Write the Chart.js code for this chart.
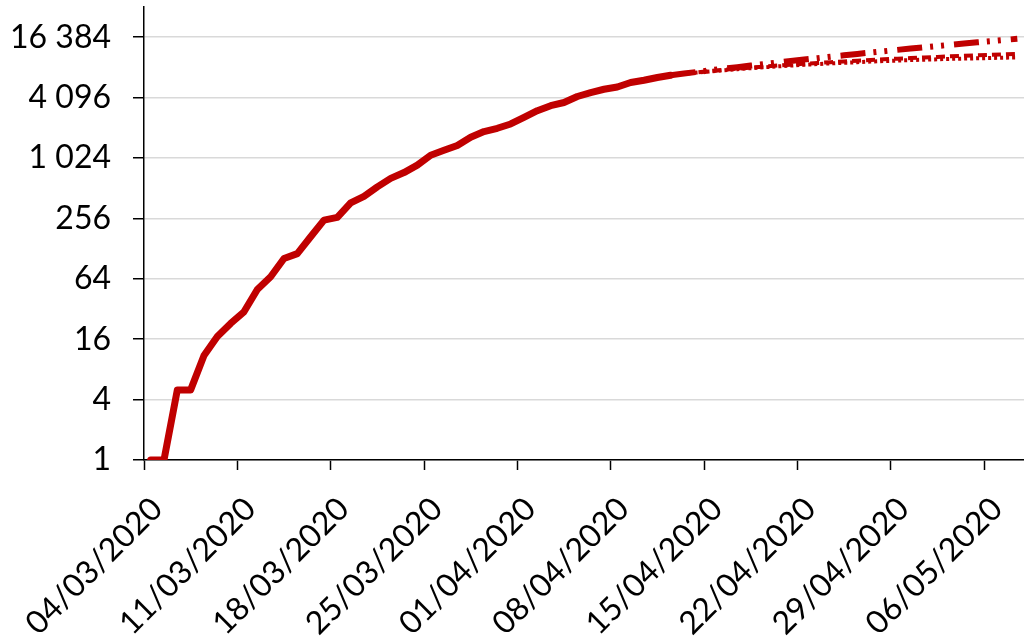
<!DOCTYPE html>
<html>
<head>
<meta charset="utf-8">
<script src="https://cdn.jsdelivr.net/npm/chart.js@4/dist/chart.umd.min.js"></script>
<style>
  html, body { margin: 0; padding: 0; background: #fff; }
  #wrap { width: 1024px; height: 638px; }
</style>
</head>
<body>
<div id="wrap"><canvas id="chart" width="1024" height="638"></canvas></div>
<script>
// day 0 = 04/03/2020, one value per day
const observed = [1, 1, 5, 5, 11, 17, 23, 30, 50, 67, 102, 114, 168, 246, 262, 366, 425, 528, 641, 733,
  869, 1090, 1221, 1367, 1650, 1878, 2025, 2237, 2600, 3035, 3400, 3660, 4200, 4600, 4960, 5230, 5800, 6100, 6500, 6850];

// projections start on the last observed day (day 39)
const projStart = 39;
const projHigh = [6850, 7120, 7390, 7670, 7950, 8240, 8540, 8840, 9150, 9480, 9800, 10130, 10480, 10810,
  11160, 11520, 11880, 12250, 12630, 13000, 13380, 13780, 14170, 14560, 14970, 15380, 15790];
const projMid = [6850, 7092, 7322, 7544, 7756, 7952, 8158, 8347, 8540, 8720, 8898, 9065, 9229, 9404,
  9556, 9708, 9864, 10001, 10141, 10283, 10426, 10572, 10690, 10816, 10936, 11067, 11190];
const projLow = [6850, 7072, 7287, 7491, 7681, 7863, 8045, 8215, 8382, 8540, 8696, 8836, 8982, 9108,
  9229, 9358, 9469, 9575, 9688, 9776, 9864, 9960, 10023, 10093, 10163, 10233, 10305];

const tickDays = [0, 7, 14, 21, 28, 35, 42, 49, 56, 63];
const tickLabels = ['04/03/2020', '11/03/2020', '18/03/2020', '25/03/2020', '01/04/2020',
  '08/04/2020', '15/04/2020', '22/04/2020', '29/04/2020', '06/05/2020'];
const yTicks = [1, 4, 16, 64, 256, 1024, 4096, 16384];

const RED = '#C00000';
const FONT = { family: 'Lato, "Open Sans", sans-serif', size: 32 };

function fmtThousands(v) {
  return String(v).replace(/\B(?=(\d{3})+(?!\d))/g, ' ');
}

// points sit in the middle of their day slot
function toPoints(values, offset) {
  return values.map((v, i) => ({ x: offset + i + 0.5, y: v }));
}

function lineSet(values, offset, width, dash) {
  return {
    data: toPoints(values, offset),
    borderColor: RED,
    backgroundColor: RED,
    borderWidth: width,
    borderDash: dash,
    borderCapStyle: dash.length ? 'butt' : 'round',
    borderJoinStyle: 'round',
    pointRadius: 0,
    tension: 0,
    fill: false,
  };
}

// keep the plot area fixed, no extra room for overhanging labels
function noPadding(scale) {
  scale.paddingTop = 0;
  scale.paddingBottom = 0;
  scale.paddingLeft = 0;
  scale.paddingRight = 0;
}

new Chart(document.getElementById('chart'), {
  type: 'line',
  data: {
    datasets: [
      lineSet(observed, 0, 7, []),
      lineSet(projHigh, projStart, 6, [25, 8, 3, 8, 3, 10]),
      lineSet(projMid, projStart, 4, [9, 5]),
      lineSet(projLow, projStart, 4, [3, 3]),
    ],
  },
  options: {
    responsive: false,
    animation: false,
    layout: { padding: { top: 7, right: 0, left: 0, bottom: 0 } },
    plugins: { legend: { display: false }, tooltip: { enabled: false } },
    scales: {
      x: {
        type: 'linear',
        min: 0,
        max: 66,
        afterBuildTicks: (scale) => { scale.ticks = tickDays.map((value) => ({ value })); },
        afterFit: (scale) => { scale.height = 178; noPadding(scale); },
        ticks: {
          autoSkip: false,
          minRotation: 45,
          maxRotation: 45,
          padding: 20,
          labelOffset: 13,
          color: '#000',
          font: FONT,
          callback: (value) => tickLabels[tickDays.indexOf(value)] || '',
        },
        grid: { drawOnChartArea: false, drawTicks: true, tickLength: 10, tickColor: '#000', tickWidth: 1.5 },
        border: { color: '#000', width: 1.5 },
      },
      y: {
        type: 'logarithmic',
        min: 1,
        max: 32768,
        afterBuildTicks: (scale) => { scale.ticks = yTicks.map((value) => ({ value })); },
        afterFit: (scale) => { scale.width = 144; noPadding(scale); },
        ticks: {
          padding: 22,
          color: '#000',
          font: FONT,
          callback: (value) => fmtThousands(value),
        },
        grid: { color: '#d9d9d9', lineWidth: 1.5, tickColor: '#000', tickLength: 11, tickWidth: 1.5 },
        border: { color: '#000', width: 1.5 },
      },
    },
  },
});
</script>
</body>
</html>
